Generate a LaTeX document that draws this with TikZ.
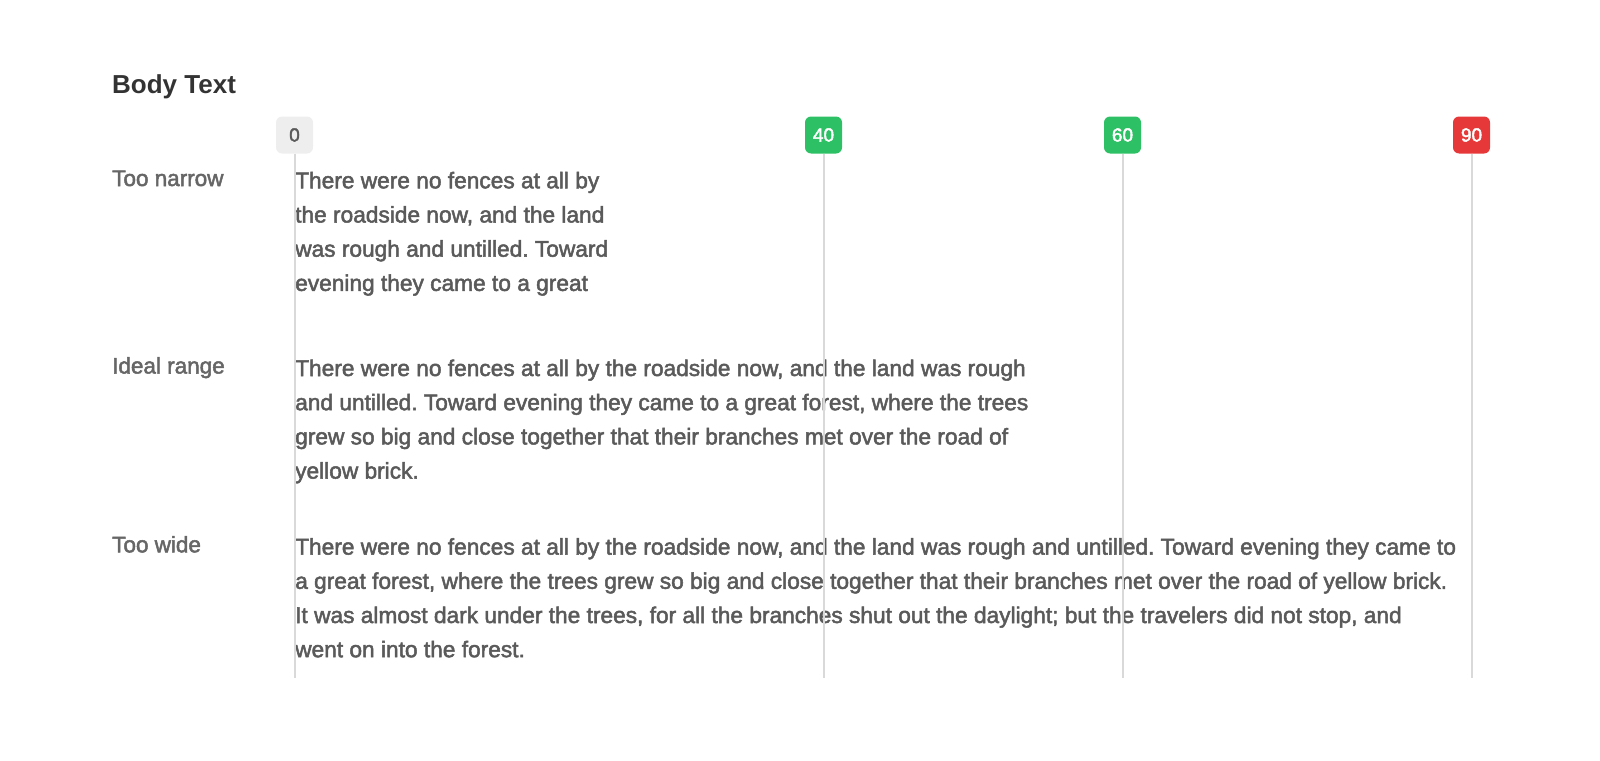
\documentclass[tikz,border=0pt]{standalone}
\usepackage{fontspec}
\setmainfont{Liberation Sans}
\newfontfamily\medfont{Liberation Sans}[FakeBold=2.2]
\frenchspacing
\definecolor{titlec}{HTML}{333333}
\definecolor{labelc}{HTML}{666666}
\definecolor{bodyc}{HTML}{5A5A5A}
\definecolor{rulec}{HTML}{D9D9D9}
\definecolor{zeroc}{HTML}{EEEEEE}
\definecolor{greenc}{HTML}{2DC064}
\definecolor{redc}{HTML}{E63838}
\tikzset{
  badge/.style={minimum width=37pt, minimum height=37pt, inner sep=0pt, rounded corners=6pt,
    font=\medfont\fontsize{19}{19}\selectfont, text=white},
  rowlabel/.style={anchor=base west, inner sep=0pt, text=labelc, font=\medfont\fontsize{22.5}{22.5}\selectfont},
  para/.style={anchor=base west, inner sep=0pt, align=left, text=bodyc, font=\medfont\fontsize{22.7}{34.2}\selectfont},
  rule/.style={draw=rulec, line width=2pt}
}
\begin{document}
\begin{tikzpicture}[x=1pt,y=-1pt]
\useasboundingbox (0,0) rectangle (1600,760);
\node[anchor=base west, inner sep=0pt, text=titlec, font=\bfseries\fontsize{26}{26}\selectfont] (title) at (112,93) {Body Text};

\node[rowlabel] (lnarrow) at (112,186) {Too narrow};
\node[rowlabel] (lideal) at (112,373.5) {Ideal range};
\node[rowlabel] (lwide) at (112,552.3) {Too wide};

% anchor = baseline of the last line
\node[para] (pnarrow) at (295,290.9) {There were no fences at all by\\the roadside now, and the land\\was rough and untilled. Toward\\evening they came to a great};
\node[para] (pideal) at (295,478.6) {There were no fences at all by the roadside now, and the land was rough\\and untilled. Toward evening they came to a great forest, where the trees\\grew so big and close together that their branches met over the road of\\yellow brick.};
\node[para] (pwide) at (295,657.2) {There were no fences at all by the roadside now, and the land was rough and untilled. Toward evening they came to\\a great forest, where the trees grew so big and close together that their branches met over the road of yellow brick.\\It was almost dark under the trees, for all the branches shut out the daylight; but the travelers did not stop, and\\went on into the forest.};

\node[badge, fill=zeroc, text=bodyc] (b0) at (294.5,135) {0};
\node[badge, fill=greenc] (b40) at (823.5,135) {40};
\node[badge, fill=greenc] (b60) at (1122.5,135) {60};
\node[badge, fill=redc] (b90) at (1471.5,135) {90};

\coordinate (e0) at (294.5,677.5);
\coordinate (e40) at (823.5,677.5);
\coordinate (e60) at (1122.5,677.5);
\coordinate (e90) at (1471.5,677.5);

\draw[rule] (b0.south) -- (e0);
\draw[rule] (b40.south) -- (e40);
\draw[rule] (b60.south) -- (e60);
\draw[rule] (b90.south) -- (e90);
\end{tikzpicture}
\end{document}
